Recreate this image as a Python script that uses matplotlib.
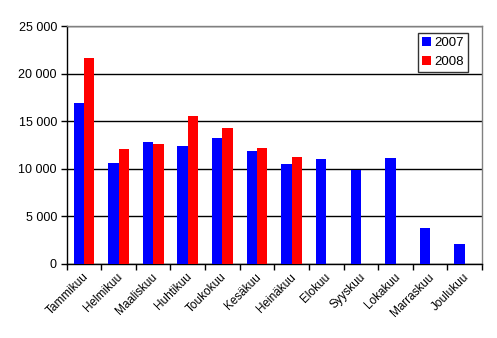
import numpy as np
import matplotlib
matplotlib.use("Agg")
import matplotlib.pyplot as plt
from matplotlib.ticker import FuncFormatter

plt.rcParams["font.family"] = ["Liberation Sans", "DejaVu Sans"]

# -------------------------------------------------------
# Data
# -------------------------------------------------------

months = ["Tammikuu", "Helmikuu", "Maaliskuu", "Huhtikuu", "Toukokuu", "Kesäkuu",
          "Heinäkuu", "Elokuu", "Syyskuu", "Lokakuu", "Marraskuu", "Joulukuu"]

y2007 = [16900, 10600, 12800, 12400, 13200, 11900, 10500, 11000, 9900, 11100, 3800, 2100]
y2008 = [21600, 12100, 12600, 15550, 14300, 12200, 11250]

# -------------------------------------------------------
# Plot
# -------------------------------------------------------

fig = plt.figure(figsize=(4.97, 3.38), dpi=100)
ax = fig.add_axes([0.134, 0.219, 0.836, 0.704])

x = np.arange(len(months))
w = 0.3

ax.bar(x - w / 2, y2007, width=w, color="#0000ff", label="2007", zorder=3)
ax.bar(x[:len(y2008)] + w / 2, y2008, width=w, color="#ff0000", label="2008", zorder=3)

ax.set_xlim(-0.5, len(months) - 0.5)
ax.set_ylim(0, 25000)
ax.set_yticks(range(0, 25001, 5000))
ax.yaxis.set_major_formatter(FuncFormatter(lambda v, p: f"{int(v):,}".replace(",", " ")))

ax.yaxis.grid(True, color="black", linewidth=1.0, zorder=0)
ax.set_axisbelow(True)

ax.set_xticks(np.arange(len(months) + 1) - 0.5)
ax.set_xticklabels([])
ax.set_xticks(x - 0.05, minor=True)
ax.set_xticklabels(months, minor=True, rotation=45, ha="right", va="top",
                   rotation_mode="anchor", fontsize=8.5)
ax.tick_params(axis="x", which="minor", length=0, pad=5)
ax.tick_params(axis="x", which="major", length=4, width=1, color="black")
ax.tick_params(axis="y", length=4, width=1, labelsize=9, pad=3)

for s in ["left", "bottom"]:
    ax.spines[s].set_color("black")
    ax.spines[s].set_linewidth(1.0)
for s in ["top", "right"]:
    ax.spines[s].set_color("#808080")
    ax.spines[s].set_linewidth(1.0)

leg = ax.legend(loc="upper right", bbox_to_anchor=(0.965, 0.97), fontsize=9.5,
                frameon=True, fancybox=False, handlelength=0.65, handleheight=0.65,
                handletextpad=0.25, borderpad=0.3, labelspacing=0.55, borderaxespad=0)
leg.get_frame().set_edgecolor("black")
leg.get_frame().set_linewidth(1.0)

fig.savefig("out.png", dpi=100)
plt.close()
